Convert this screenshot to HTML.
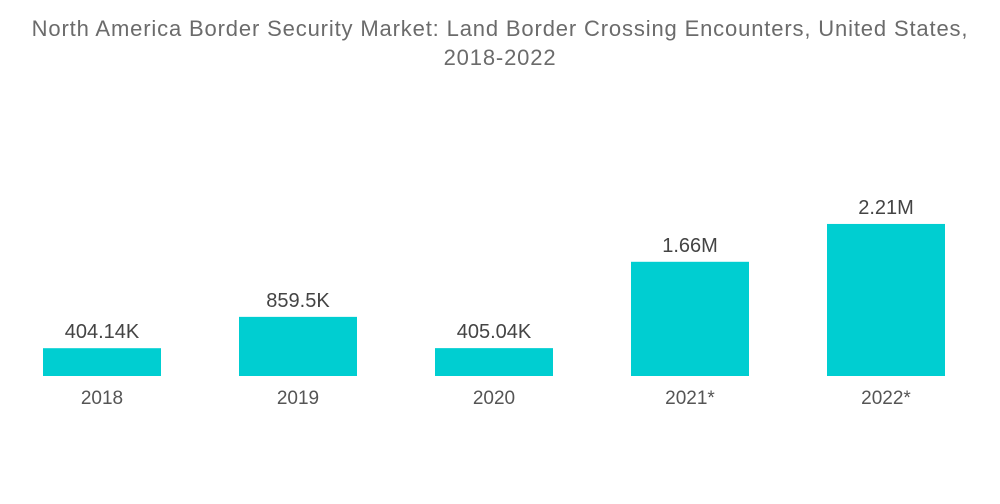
<!DOCTYPE html>
<html><head><meta charset="utf-8"><style>
html,body{margin:0;padding:0;background:#fff;}
body{width:1000px;height:504px;overflow:hidden;font-family:"Liberation Sans",sans-serif;}
#title{position:absolute;left:0;top:14px;width:1000px;text-align:center;color:#6b6b6b;font-size:22px;line-height:29px;letter-spacing:0.85px;}
svg{position:absolute;left:0;top:0;}
</style></head><body>
<div id="title">North America Border Security Market: Land Border Crossing Encounters, United States,<br>2018-2022</div>
<svg id="chart" width="1000" height="504"></svg>
<script>
const categories = ["2018","2019","2020","2021*","2022*"];
const values = [0.40414,0.8595,0.40504,1.66,2.21];
const valueLabels = ["404.14K","859.5K","405.04K","1.66M","2.21M"];
const svg = document.getElementById('chart');
const NS = 'http://www.w3.org/2000/svg';
const baseY = 376, pxPerUnit = 68.8, x0 = 43, step = 196, bw = 118;
function xPos(i){return x0 + i*step;}
function yPos(v){return baseY - v*pxPerUnit;}
categories.forEach((c,i)=>{
  const r = document.createElementNS(NS,'rect');
  r.setAttribute('x',xPos(i));
  r.setAttribute('y',yPos(values[i]));
  r.setAttribute('width',bw);
  r.setAttribute('height',baseY-yPos(values[i]));
  r.setAttribute('fill','#00CED1');
  
  
  svg.appendChild(r);
  const t = document.createElementNS(NS,'text');
  t.setAttribute('x',xPos(i)+bw/2);
  t.setAttribute('y',yPos(values[i])-10);
  t.setAttribute('text-anchor','middle');
  t.setAttribute('font-size','20');
  t.setAttribute('fill','#444');
  t.textContent = valueLabels[i];
  
  
  svg.appendChild(t);
  const l = document.createElementNS(NS,'text');
  l.setAttribute('x',xPos(i)+bw/2);
  l.setAttribute('y',404);
  l.setAttribute('text-anchor','middle');
  l.setAttribute('font-size','19');
  l.setAttribute('fill','#555');
  l.textContent = c;
  
  
  svg.appendChild(l);
});
</script>
</body></html>
